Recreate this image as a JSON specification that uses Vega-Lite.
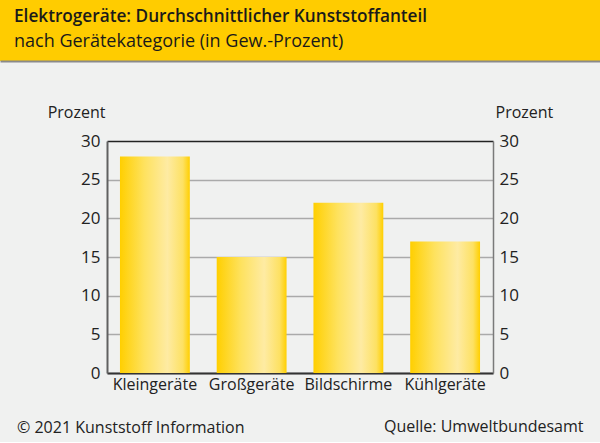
{
  "$schema": "https://vega.github.io/schema/vega-lite/v6.json",
  "background": "#f0f1f0",
  "padding": {"left": 0, "top": 0, "right": 0, "bottom": 6},
  "autosize": {"type": "pad"},
  "bounds": "flush",
  "center": true,
  "spacing": 80,
  "config": {
    "view": {"stroke": null},
    "font": "Open Sans"
  },
  "vconcat": [
    {
      "width": 600,
      "height": 61,
      "view": {"fill": "#ffcc00", "stroke": null},
      "title": {
        "text": "Elektrogeräte: Durchschnittlicher Kunststoffanteil",
        "subtitle": "nach Gerätekategorie (in Gew.-Prozent)",
        "orient": "bottom",
        "frame": "group",
        "anchor": "start",
        "offset": -53,
        "dx": 14,
        "fontSize": 17.2,
        "fontWeight": 600,
        "color": "#1a1a1a",
        "subtitleFontSize": 18,
        "subtitleColor": "#1a1a1a",
        "subtitlePadding": 8
      },
      "data": {"values": [{"t": ""}]},
      "mark": {"type": "text"},
      "encoding": {
        "text": {"field": "t"},
        "x": {
          "datum": 0,
          "type": "quantitative",
          "axis": {
            "orient": "bottom",
            "domain": true,
            "domainColor": "#8a8a8a",
            "domainWidth": 2,
            "ticks": false,
            "labels": false,
            "grid": false,
            "title": null
          }
        }
      }
    },
    {
      "width": 386,
      "height": 232,
      "data": {
        "values": [
          {"kategorie": "Kleingeräte", "prozent": 28},
          {"kategorie": "Großgeräte", "prozent": 15},
          {"kategorie": "Bildschirme", "prozent": 22},
          {"kategorie": "Kühlgeräte", "prozent": 17}
        ]
      },
      "title": {
        "text": "© 2021 Kunststoff Information",
        "orient": "bottom",
        "frame": "group",
        "anchor": "start",
        "offset": -14,
        "dx": -90,
        "fontSize": 16,
        "fontWeight": "normal",
        "color": "#222222"
      },
      "resolve": {"axis": {"y": "independent"}},
      "layer": [
        {
          "mark": {
            "type": "bar",
            "color": {
              "gradient": "linear",
              "x1": 0, "x2": 1, "y1": 0, "y2": 0,
              "stops": [
                {"offset": 0, "color": "#ffcf00"},
                {"offset": 0.35, "color": "#fee25f"},
                {"offset": 0.68, "color": "#feeba3"},
                {"offset": 0.9, "color": "#fde163"},
                {"offset": 1, "color": "#ffcf00"}
              ]
            }
          },
          "encoding": {
            "x": {
              "field": "kategorie",
              "type": "nominal",
              "sort": null,
              "scale": {"paddingInner": 0.278, "paddingOuter": 0.134},
              "axis": {
                "labelAngle": 0,
                "ticks": false,
                "domainColor": "#333333",
                "domainWidth": 2,
                "labelFontSize": 16,
                "labelColor": "#222222",
                "labelPadding": 3,
                "title": "Quelle: Umweltbundesamt",
                "titleX": 476,
                "titleY": 53,
                "titleAlign": "right",
                "titleBaseline": "middle",
                "titleFontSize": 16,
                "titleFontWeight": "normal",
                "titleColor": "#222222"
              }
            },
            "y": {
              "field": "prozent",
              "type": "quantitative",
              "scale": {"domain": [0, 30], "nice": false},
              "axis": {
                "orient": "left",
                "values": [0, 5, 10, 15, 20, 25, 30],
                "ticks": false,
                "labelPadding": 7,
                "labelFontSize": 17,
                "labelColor": "#222222",
                "domainColor": "#606060",
                "domainWidth": 2,
                "grid": true,
                "gridColor": {"condition": {"test": "datum.value === 30", "value": "#222222"}, "value": "#aaaaaa"},
                "gridWidth": 1.5,
                "title": "Prozent",
                "titleAngle": 0,
                "titleAlign": "right",
                "titleBaseline": "middle",
                "titleX": -2,
                "titleY": -29,
                "titleFontSize": 16,
                "titleFontWeight": "normal",
                "titleColor": "#222222"
              }
            }
          }
        },
        {
          "mark": {"type": "bar", "opacity": 0},
          "encoding": {
            "x": {"field": "kategorie", "type": "nominal", "sort": null},
            "y": {
              "field": "prozent",
              "type": "quantitative",
              "axis": {
                "orient": "right",
                "values": [0, 5, 10, 15, 20, 25, 30],
                "ticks": false,
                "labelPadding": 6,
                "labelFontSize": 17,
                "labelColor": "#222222",
                "domainColor": "#7a7a7a",
                "domainWidth": 1.5,
                "grid": false,
                "title": "Prozent",
                "titleAngle": 0,
                "titleAlign": "left",
                "titleBaseline": "middle",
                "titleX": 2,
                "titleY": -29,
                "titleFontSize": 16,
                "titleFontWeight": "normal",
                "titleColor": "#222222"
              }
            }
          }
        }
      ]
    }
  ]
}
